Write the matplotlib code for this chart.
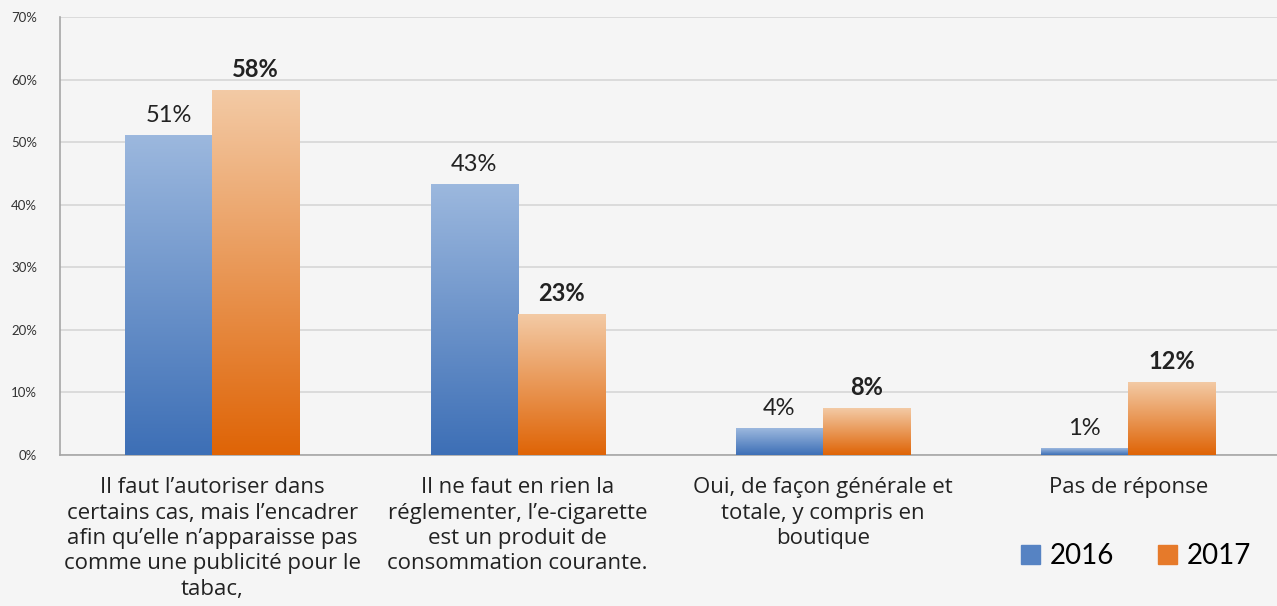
import matplotlib.pyplot as plt
import numpy as np
from matplotlib.colors import LinearSegmentedColormap
from matplotlib.patches import Rectangle

plt.rcParams['font.family'] = ['Lato', 'DejaVu Sans']

CATEGORIES = [
    "Il faut l\u2019autoriser dans\ncertains cas, mais l\u2019encadrer\nafin qu\u2019elle n\u2019apparaisse pas\ncomme une publicit\u00e9 pour le\ntabac,",
    "Il ne faut en rien la\nr\u00e9glementer, l\u2019e-cigarette\nest un produit de\nconsommation courante.",
    "Oui, de fa\u00e7on g\u00e9n\u00e9rale et\ntotale, y compris en\nboutique",
    "Pas de r\u00e9ponse",
]
VALUES_2016 = [51.1, 43.3, 4.3, 1.0]
VALUES_2017 = [58.3, 22.4, 7.4, 11.6]
LABELS_2016 = ["51%", "43%", "4%", "1%"]
LABELS_2017 = ["58%", "23%", "8%", "12%"]
YTICKS = [0, 10, 20, 30, 40, 50, 60, 70]

BG = "#f5f5f5"
BLUE_TOP, BLUE_BOT = "#9cb8de", "#3d6fb6"
ORANGE_TOP, ORANGE_BOT = "#f3caa5", "#df6406"


def gradient_bar(ax, x0, width, height, top, bottom):
    cmap = LinearSegmentedColormap.from_list("g", [bottom, top])
    grad = np.linspace(0, 1, 256).reshape(-1, 1)
    ax.imshow(grad, cmap=cmap, origin="lower", aspect="auto",
              extent=[x0, x0 + width, 0, height], zorder=3)


fig = plt.figure(figsize=(12.77, 6.06), dpi=100, facecolor=BG)
ax = fig.add_axes([59.5 / 1277, 151 / 606, 1221.5 / 1277, 438 / 606])
ax.set_facecolor(BG)

w = 0.285
x = np.arange(len(CATEGORIES))
for i in x:
    gradient_bar(ax, i - w, w, VALUES_2016[i], BLUE_TOP, BLUE_BOT)
    gradient_bar(ax, i, w, VALUES_2017[i], ORANGE_TOP, ORANGE_BOT)
    ax.text(i - w / 2, VALUES_2016[i] + 1.5, LABELS_2016[i], ha="center",
            va="bottom", fontsize=17, color="#222222")
    ax.text(i + w / 2, VALUES_2017[i] + 1.5, LABELS_2017[i], ha="center",
            va="bottom", fontsize=17, fontweight="bold", color="#222222")

ax.set_xlim(-0.5, 3.5)
ax.set_ylim(0, 70)
ax.set_yticks(YTICKS)
ax.set_yticklabels([f"{v}%" for v in YTICKS], fontsize=9.5, color="#333333")
ax.set_xticks(x)
ax.set_xticklabels(CATEGORIES, fontsize=16, color="#222222", linespacing=1.27,
                   va="top", family=["Open Sans", "DejaVu Sans"])
ax.tick_params(length=0, axis="both")
ax.tick_params(axis="x", pad=16)
ax.tick_params(axis="y", pad=16)
ax.grid(axis="y", color="#d6d6d6", linewidth=1.2, zorder=0)
ax.set_axisbelow(True)
for s in ["top", "right"]:
    ax.spines[s].set_visible(False)
for s in ["left", "bottom"]:
    ax.spines[s].set_color("#a6a6a6")
    ax.spines[s].set_linewidth(1.2)

handles = [Rectangle((0, 0), 1, 1, color="#5683c3"),
           Rectangle((0, 0), 1, 1, color="#e67a2a")]
fig.legend(handles, ["2016", "2017"], loc="center", bbox_to_anchor=(1136 / 1277, 1 - 556 / 606),
           ncol=2, frameon=False, fontsize=20, handlelength=0.7, handleheight=0.7,
           handletextpad=0.35, columnspacing=1.55)

fig.savefig("out.png", dpi=100, facecolor=BG)
